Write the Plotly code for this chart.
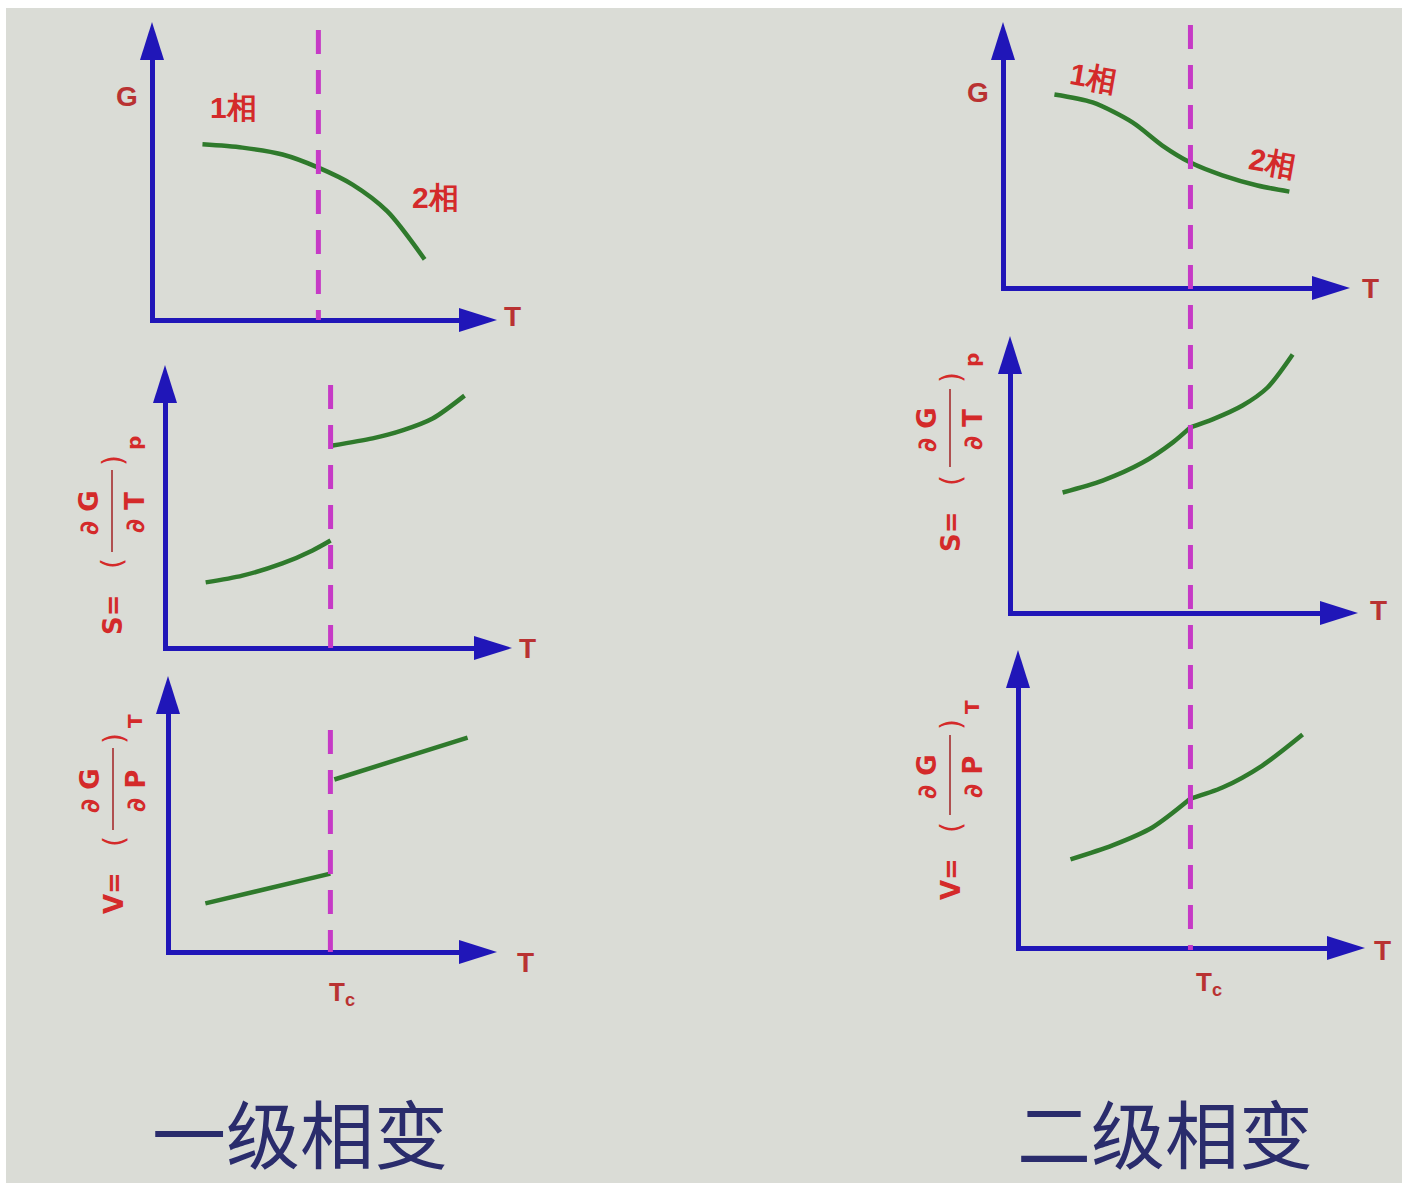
import plotly.graph_objects as go

FW, FH = 1402, 1183

# ---------------- data (arbitrary units; each axis runs 0..10 from origin to arrow tip)
# 一级相变
g1_T = [1.39, 2.55, 3.71, 4.75, 5.74, 6.75, 7.83]
g1_G = [5.81, 5.70, 5.47, 5.03, 4.46, 3.56, 1.95]
s1a_T = [1.10, 2.16, 3.31, 4.18, 4.70]
s1a_S = [2.23, 2.47, 2.90, 3.36, 3.71]
s1b_T = [4.76, 5.91, 6.77, 7.64, 8.56]
s1b_S = [7.07, 7.32, 7.60, 8.02, 8.83]
v1a_T = [1.06, 4.86]
v1a_V = [1.67, 2.75]
v1b_T = [4.98, 9.03]
v1b_V = [6.16, 7.68]
# 二级相变
g2_T = [1.41, 2.51, 3.66, 4.52, 5.33, 6.25, 7.26, 8.18]
g2_G = [7.18, 6.88, 6.13, 5.26, 4.62, 4.14, 3.76, 3.53]
s2a_T = [1.44, 2.59, 3.74, 4.60, 5.11]
s2a_S = [4.26, 4.69, 5.34, 6.06, 6.61]
s2b_T = [5.11, 5.75, 6.61, 7.33, 8.05]
s2b_S = [6.61, 6.90, 7.40, 8.05, 9.24]
v2a_T = [1.44, 2.65, 3.80, 4.90]
v2a_V = [2.89, 3.36, 3.96, 4.93]
v2b_T = [4.90, 5.82, 6.97, 8.13]
v2b_V = [4.93, 5.30, 6.04, 7.08]
# transition temperature on each panel's T axis
tc_first = [4.75, 4.70, 4.86]
tc_second = [5.33, 5.11, 4.90]

titles = ["一级相变", "二级相变"]
phase_labels = ["1相", "2相"]

# ---------------- styling
BG = "#dadcd6"
AXIS_BLUE = "#2016b8"
CURVE_GREEN = "#2f7a2c"
DASH_MAGENTA = "#c63ac6"
LABEL_RED = "#d42a2a"
AXIS_RED = "#b93232"
TITLE_BLUE = "#2a2c6c"


def X(px):
    return px / FW


def Y(py):
    return 1 - py / FH


# panel frames: axis origin and arrow tips, in page pixels
panels = [
    dict(o=(152, 320), tip=(497, 22)),
    dict(o=(165, 648), tip=(512, 365)),
    dict(o=(168, 952), tip=(497, 676)),
    dict(o=(1003, 288), tip=(1350, 22)),
    dict(o=(1010, 613), tip=(1358, 336)),
    dict(o=(1018, 948), tip=(1365, 650)),
]

fig = go.Figure()
layout = dict(
    width=FW, height=FH, margin=dict(l=0, r=0, t=0, b=0),
    paper_bgcolor="white", plot_bgcolor="rgba(0,0,0,0)",
    showlegend=False, shapes=[], annotations=[],
)

# grey page with a thin white strip on top and left
layout["shapes"].append(dict(type="rect", xref="paper", yref="paper",
                             x0=X(6), x1=1, y0=0, y1=Y(8),
                             fillcolor=BG, line_width=0, layer="below"))

for i, p in enumerate(panels):
    n = "" if i == 0 else str(i + 1)
    ox, oy = p["o"]
    tx, ty = p["tip"]
    ux = (tx - ox) / 10.0
    uy = (oy - ty) / 10.0
    left, right = ox + 2.5, tx - 10
    bottom, top = oy - 2.5, ty + 10
    xr = (right - left) / ux
    yr = (bottom - top) / uy
    ax_common = dict(showline=True, linewidth=5, linecolor=AXIS_BLUE,
                     showgrid=False, zeroline=False, showticklabels=False,
                     ticks="", fixedrange=True)
    layout["xaxis" + n] = dict(domain=[X(left), X(right)], range=[0, xr],
                               anchor="y" + n, **ax_common)
    layout["yaxis" + n] = dict(domain=[Y(bottom), Y(top)], range=[0, yr],
                               anchor="x" + n, **ax_common)
    # arrow heads at the ends of both axes
    layout["shapes"].append(dict(
        type="path", xref="paper", yref="paper", xsizemode="pixel", ysizemode="pixel",
        xanchor=X(tx), yanchor=Y(oy), path="M 0,0 L -38,12 L -38,-12 Z",
        fillcolor=AXIS_BLUE, line_width=0))
    layout["shapes"].append(dict(
        type="path", xref="paper", yref="paper", xsizemode="pixel", ysizemode="pixel",
        xanchor=X(ox), yanchor=Y(ty), path="M 0,0 L -12,-38 L 12,-38 Z",
        fillcolor=AXIS_BLUE, line_width=0))


def curve(T, V, n):
    fig.add_trace(go.Scatter(
        x=T, y=V, mode="lines", xaxis="x" + n, yaxis="y" + n,
        line=dict(color=CURVE_GREEN, width=4.5, shape="spline", smoothing=0.8),
        hoverinfo="skip"))


curve(g1_T, g1_G, "")
curve(s1a_T, s1a_S, "2")
curve(s1b_T, s1b_S, "2")
curve(v1a_T, v1a_V, "3")
curve(v1b_T, v1b_V, "3")
curve(g2_T, g2_G, "4")
curve(s2a_T, s2a_S, "5")
curve(s2b_T, s2b_S, "5")
curve(v2a_T, v2a_V, "6")
curve(v2b_T, v2b_V, "6")


def tc_line(xref, tc, py0, py1):
    layout["shapes"].append(dict(
        type="line", xref=xref, yref="paper", x0=tc, x1=tc, y0=Y(py0), y1=Y(py1),
        line=dict(color=DASH_MAGENTA, width=5, dash="24px,16px")))


tc_line("x", tc_first[0], 30, 320)
tc_line("x2", tc_first[1], 385, 648)
tc_line("x3", tc_first[2], 730, 952)
tc_line("x4", tc_second[0], 25, 950)


def text(s, px, py, size=28, color=AXIS_RED, angle=0, family="Liberation Sans",
         weight="bold"):
    layout["annotations"].append(dict(
        text=s, x=X(px), y=Y(py), xref="paper", yref="paper",
        xanchor="center", yanchor="middle", showarrow=False, textangle=angle,
        font=dict(family=family, size=size, color=color, weight=weight)))


# axis names
text("G", 127, 97)
text("T", 512, 316)
text("T", 527, 648)
text("T", 525, 962)
text("T<sub>c</sub>", 342, 993, size=26)
text("G", 978, 92)
text("T", 1370, 288)
text("T", 1378, 610)
text("T", 1382, 950)
text("T<sub>c</sub>", 1209, 983, size=26)

# phase names
text(phase_labels[0], 233, 108, size=30, color=LABEL_RED)
text(phase_labels[1], 435, 198, size=30, color=LABEL_RED)
text(phase_labels[0], 1093, 78, size=30, color=LABEL_RED, angle=10)
text(phase_labels[1], 1272, 162, size=30, color=LABEL_RED, angle=10)


def derivative_label(lhs, num, den, sub, cx, cy, bar):
    fam = "DejaVu Sans"
    text(lhs, cx + 1, cy + 104, size=26, color=LABEL_RED, angle=-90, family=fam)
    text("(", cx + 1, cy + 53, size=28, color=LABEL_RED, angle=-90, family=fam,
         weight="normal")
    text(num, cx - 23, cy + 2, size=26, color=LABEL_RED, angle=-90, family=fam)
    text(den, cx + 23, cy + 2, size=26, color=LABEL_RED, angle=-90, family=fam)
    text(")", cx + 1, cy - 50, size=28, color=LABEL_RED, angle=-90, family=fam,
         weight="normal")
    text(sub, cx + 22, cy - 68, size=20, color=LABEL_RED, angle=-90, family=fam)
    layout["shapes"].append(dict(
        type="line", xref="paper", yref="paper",
        x0=X(cx), x1=X(cx), y0=Y(cy - bar / 2), y1=Y(cy + bar / 2),
        line=dict(color="#b05050", width=2)))


derivative_label("S=", "∂ G", "∂ T", "p", 112, 511, 82)
derivative_label("V=", "∂ G", "∂ P", "T", 113, 789, 82)
derivative_label("S=", "∂ G", "∂ T", "p", 950, 428, 78)
derivative_label("V=", "∂ G", "∂ P", "T", 950, 775, 80)

# titles
text(titles[0], 300, 1130, size=74, color=TITLE_BLUE, family="Noto Sans CJK SC",
     weight="normal")
text(titles[1], 1165, 1130, size=74, color=TITLE_BLUE, family="Noto Sans CJK SC",
     weight="normal")

fig.update_layout(**layout)
fig.write_html("out.html")
